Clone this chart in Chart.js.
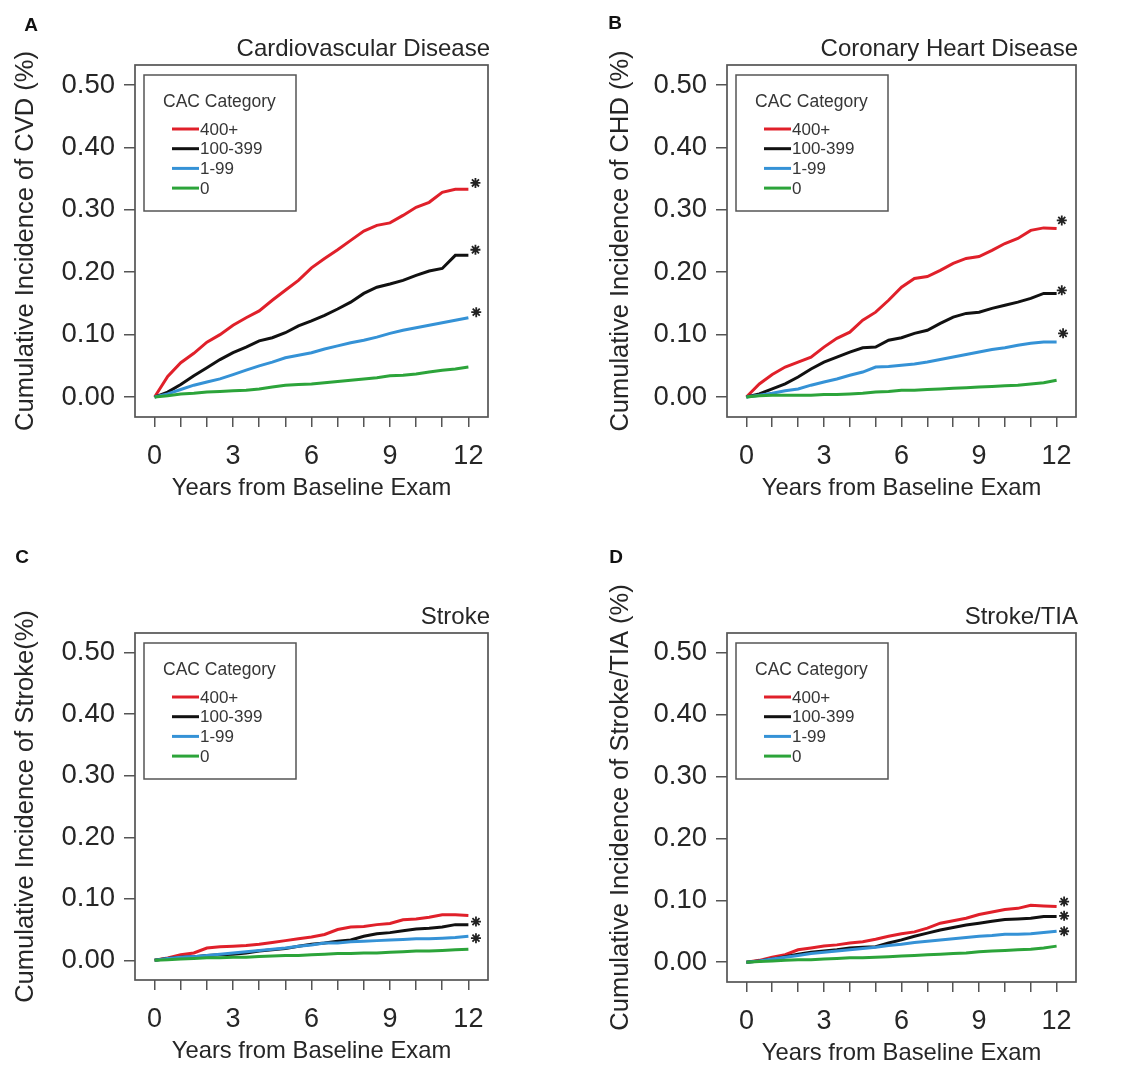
<!DOCTYPE html>
<html>
<head>
<meta charset="utf-8">
<script src="https://cdn.jsdelivr.net/npm/chart.js@4.4.1/dist/chart.umd.min.js"></script>
<style>
  html, body { margin: 0; padding: 0; background: #ffffff; }
  #wrap { position: relative; width: 1126px; height: 1067px; overflow: hidden; }
  #wrap canvas { position: absolute; left: 0; top: 0; }
</style>
</head>
<body>
<div id="wrap">
  <canvas id="cA" width="1126" height="1067"></canvas>
  <canvas id="cB" width="1126" height="1067"></canvas>
  <canvas id="cC" width="1126" height="1067"></canvas>
  <canvas id="cD" width="1126" height="1067"></canvas>
</div>
<script>
// ---------------- DATA ----------------
const years = [0, 0.5, 1, 1.5, 2, 2.5, 3, 3.5, 4, 4.5, 5, 5.5, 6, 6.5, 7, 7.5, 8, 8.5, 9, 9.5, 10, 10.5, 11, 11.5, 12];
const categories = ["400+", "100-399", "1-99", "0"];
const xTickValues = [0, 1, 2, 3, 4, 5, 6, 7, 8, 9, 10, 11, 12];
const yTickValues = [0, 0.1, 0.2, 0.3, 0.4, 0.5];

// Panel A: Cardiovascular Disease
const cvd400 = [0, 0.033, 0.055, 0.070, 0.088, 0.100, 0.115, 0.127, 0.138, 0.155, 0.171, 0.187, 0.207, 0.222, 0.236, 0.251, 0.266, 0.275, 0.279, 0.291, 0.304, 0.312, 0.328, 0.333, 0.333];
const cvd100 = [0, 0.008, 0.020, 0.034, 0.047, 0.060, 0.071, 0.080, 0.090, 0.095, 0.103, 0.114, 0.122, 0.131, 0.141, 0.152, 0.166, 0.176, 0.181, 0.187, 0.195, 0.202, 0.206, 0.227, 0.227];
const cvd1 = [0, 0.005, 0.012, 0.019, 0.024, 0.029, 0.036, 0.043, 0.050, 0.056, 0.063, 0.067, 0.071, 0.077, 0.082, 0.087, 0.091, 0.096, 0.102, 0.107, 0.111, 0.115, 0.119, 0.123, 0.127];
const cvd0 = [0, 0.002, 0.005, 0.006, 0.008, 0.009, 0.010, 0.011, 0.013, 0.016, 0.019, 0.020, 0.021, 0.023, 0.025, 0.027, 0.029, 0.031, 0.034, 0.035, 0.037, 0.040, 0.043, 0.045, 0.048];
const cvdStarX = [12.27, 12.27, 12.3];
const cvdStarY = [0.343, 0.236, 0.136];

// Panel B: Coronary Heart Disease
const chd400 = [0, 0.021, 0.036, 0.048, 0.056, 0.064, 0.080, 0.094, 0.104, 0.123, 0.136, 0.155, 0.176, 0.190, 0.193, 0.203, 0.214, 0.222, 0.225, 0.235, 0.246, 0.254, 0.267, 0.271, 0.270];
const chd100 = [0, 0.005, 0.013, 0.021, 0.032, 0.045, 0.056, 0.064, 0.072, 0.079, 0.080, 0.091, 0.095, 0.102, 0.107, 0.118, 0.128, 0.134, 0.136, 0.142, 0.147, 0.152, 0.158, 0.166, 0.166];
const chd1 = [0, 0.003, 0.006, 0.010, 0.013, 0.019, 0.024, 0.029, 0.035, 0.040, 0.048, 0.049, 0.051, 0.053, 0.056, 0.060, 0.064, 0.068, 0.072, 0.076, 0.079, 0.083, 0.086, 0.088, 0.088];
const chd0 = [0, 0.002, 0.003, 0.003, 0.003, 0.003, 0.004, 0.004, 0.005, 0.006, 0.008, 0.009, 0.011, 0.011, 0.012, 0.013, 0.014, 0.015, 0.016, 0.017, 0.018, 0.019, 0.021, 0.023, 0.027];
const chdStarX = [12.2, 12.2, 12.25];
const chdStarY = [0.283, 0.171, 0.102];

// Panel C: Stroke
const str400 = [0, 0.004, 0.009, 0.012, 0.020, 0.022, 0.023, 0.024, 0.026, 0.029, 0.032, 0.035, 0.038, 0.042, 0.050, 0.054, 0.055, 0.058, 0.060, 0.066, 0.067, 0.070, 0.074, 0.074, 0.073];
const str100 = [0, 0.003, 0.005, 0.006, 0.008, 0.009, 0.010, 0.012, 0.015, 0.017, 0.019, 0.023, 0.026, 0.028, 0.031, 0.033, 0.039, 0.043, 0.045, 0.048, 0.051, 0.052, 0.054, 0.058, 0.058];
const str1 = [0, 0.003, 0.005, 0.006, 0.008, 0.010, 0.012, 0.014, 0.016, 0.018, 0.020, 0.023, 0.025, 0.028, 0.028, 0.030, 0.031, 0.032, 0.033, 0.034, 0.035, 0.035, 0.036, 0.037, 0.039];
const str0 = [0, 0.001, 0.002, 0.003, 0.004, 0.004, 0.005, 0.005, 0.006, 0.007, 0.008, 0.008, 0.009, 0.010, 0.011, 0.011, 0.012, 0.012, 0.013, 0.014, 0.015, 0.015, 0.016, 0.017, 0.018];
const strStarX = [12.29, 12.29];
const strStarY = [0.063, 0.036];

// Panel D: Stroke/TIA
const tia400 = [0, 0.003, 0.008, 0.012, 0.020, 0.023, 0.026, 0.028, 0.031, 0.033, 0.037, 0.042, 0.046, 0.049, 0.055, 0.063, 0.067, 0.071, 0.077, 0.081, 0.085, 0.087, 0.092, 0.091, 0.090];
const tia100 = [0, 0.002, 0.005, 0.009, 0.013, 0.016, 0.018, 0.020, 0.023, 0.024, 0.025, 0.031, 0.036, 0.042, 0.047, 0.052, 0.056, 0.060, 0.063, 0.066, 0.069, 0.070, 0.071, 0.074, 0.074];
const tia1 = [0, 0.002, 0.005, 0.008, 0.011, 0.014, 0.016, 0.018, 0.020, 0.022, 0.024, 0.027, 0.029, 0.032, 0.034, 0.036, 0.038, 0.040, 0.042, 0.043, 0.045, 0.045, 0.046, 0.048, 0.050];
const tia0 = [0, 0.001, 0.002, 0.003, 0.004, 0.004, 0.005, 0.006, 0.007, 0.007, 0.008, 0.009, 0.010, 0.011, 0.012, 0.013, 0.014, 0.015, 0.017, 0.018, 0.019, 0.020, 0.021, 0.023, 0.026];
const tiaStarX = [12.29, 12.29, 12.29];
const tiaStarY = [0.098, 0.075, 0.050];

// ---------------- STYLE ----------------
const FONT = "'Liberation Sans', Arial, Helvetica, sans-serif";
const TEXT = '#262626';
const AXIS = '#555555';
const seriesColors = ['#e0202a', '#111111', '#3592d6', '#2ca43a'];

const panels = [
  { id: 'cA', letter: 'A', title: 'Cardiovascular Disease', ylab: 'Cumulative Incidence of CVD (%)',
    series: [cvd400, cvd100, cvd1, cvd0], starX: cvdStarX, starY: cvdStarY,
    L: 135, R: 488, T: 65, B: 417, yw: 124, letterX: 31, letterY: 25 },
  { id: 'cB', letter: 'B', title: 'Coronary Heart Disease', ylab: 'Cumulative Incidence of CHD (%)',
    series: [chd400, chd100, chd1, chd0], starX: chdStarX, starY: chdStarY,
    L: 727, R: 1076, T: 65, B: 417, yw: 121, letterX: 615, letterY: 23 },
  { id: 'cC', letter: 'C', title: 'Stroke', ylab: 'Cumulative Incidence of Stroke(%)',
    series: [str400, str100, str1, str0], starX: strStarX, starY: strStarY,
    L: 135, R: 488, T: 633, B: 980, yw: 124, letterX: 22, letterY: 557 },
  { id: 'cD', letter: 'D', title: 'Stroke/TIA', ylab: 'Cumulative Incidence of Stroke/TIA (%)',
    series: [tia400, tia100, tia1, tia0], starX: tiaStarX, starY: tiaStarY,
    L: 727, R: 1076, T: 633, B: 982, yw: 121, letterX: 616, letterY: 557 }
];

const XH = 86;

const boxPlugin = {
  id: 'boxPlugin',
  afterDraw(chart) {
    const { ctx, chartArea: a } = chart;
    const p = chart.options.plugins.boxPlugin;
    ctx.save();
    ctx.strokeStyle = AXIS;
    ctx.lineWidth = 1.7;
    ctx.strokeRect(a.left, a.top, a.right - a.left, a.bottom - a.top);
    // panel title
    ctx.fillStyle = TEXT;
    ctx.font = '24px ' + FONT;
    ctx.textAlign = 'right';
    ctx.textBaseline = 'middle';
    ctx.fillText(p.title, a.right + 2, a.top - 16);
    // panel letter
    ctx.font = 'bold 19px ' + FONT;
    ctx.textAlign = 'center';
    ctx.fillStyle = '#111';
    ctx.fillText(p.letter, p.letterX, p.letterY + 1);
    // legend
    const lx = a.left + 9, ly = a.top + 10, lw = 152, lh = 136;
    ctx.fillStyle = '#fff';
    ctx.fillRect(lx, ly, lw, lh);
    ctx.strokeStyle = AXIS;
    ctx.lineWidth = 1.5;
    ctx.strokeRect(lx, ly, lw, lh);
    ctx.fillStyle = '#363636';
    ctx.font = '17.5px ' + FONT;
    ctx.textAlign = 'left';
    ctx.fillText('CAC Category', lx + 19, ly + 27);
    ctx.font = '17px ' + FONT;
    chart.data.datasets.slice(0, 4).forEach((ds, i) => {
      const yy = ly + 54 + i * 19.7;
      ctx.strokeStyle = ds.borderColor;
      ctx.lineWidth = 3;
      ctx.beginPath();
      ctx.moveTo(lx + 28, yy);
      ctx.lineTo(lx + 55, yy);
      ctx.stroke();
      ctx.fillStyle = '#363636';
      ctx.fillText(ds.label, lx + 56, yy + 1);
    });
    ctx.restore();
  }
};

panels.forEach(p => {
  const datasets = p.series.map((vals, i) => ({
    label: categories[i],
    data: years.map((t, k) => ({ x: t, y: vals[k] })),
    borderColor: seriesColors[i],
    borderWidth: 3,
    pointRadius: 0,
    tension: 0,
    fill: false,
    order: 4 - i
  }));
  datasets.push({
    label: 'significance',
    data: p.starX.map((x, k) => ({ x: x, y: p.starY[k] })),
    showLine: false,
    pointStyle: 'star',
    pointRadius: 5,
    borderColor: '#222',
    backgroundColor: '#222',
    borderWidth: 1.8,
    order: 0
  });
  new Chart(document.getElementById(p.id), {
    type: 'line',
    data: { datasets },
    plugins: [boxPlugin],
    options: {
      responsive: false,
      animation: false,
      devicePixelRatio: 1,
      layout: {
        padding: { left: p.L - p.yw, right: 1126 - p.R, top: p.T, bottom: 1067 - p.B - XH }
      },
      plugins: {
        legend: { display: false },
        tooltip: { enabled: false },
        boxPlugin: { title: p.title, letter: p.letter, letterX: p.letterX, letterY: p.letterY }
      },
      scales: {
        x: {
          type: 'linear',
          min: -0.75, max: 12.75,
          afterBuildTicks: s => { s.ticks = xTickValues.map(v => ({ value: v })); },
          afterFit: s => { s.height = XH; },
          grid: { drawOnChartArea: false, drawTicks: true, tickLength: 10, color: AXIS, lineWidth: 1.5 },
          border: { display: false },
          ticks: {
            autoSkip: false, maxRotation: 0, padding: 13, color: TEXT,
            font: { family: FONT, size: 27 },
            callback: v => (v % 3 === 0 ? String(v) : '')
          },
          title: { display: true, text: 'Years from Baseline Exam', color: TEXT,
                   font: { family: FONT, size: 23.8 }, padding: { top: 0, bottom: 0, left: 0, right: 0 } }
        },
        y: {
          type: 'linear',
          min: -0.032, max: 0.532,
          afterBuildTicks: s => { s.ticks = yTickValues.map(v => ({ value: v })); },
          afterFit: s => { s.width = p.yw; },
          grid: { drawOnChartArea: false, drawTicks: true, tickLength: 11, color: AXIS, lineWidth: 1.5 },
          border: { display: false },
          ticks: { padding: 9, color: TEXT, font: { family: FONT, size: 27.5 },
                   callback: v => Number(v).toFixed(2) },
          title: { display: true, text: p.ylab, color: TEXT,
                   font: { family: FONT, size: 25.5 }, padding: 0 }
        }
      }
    }
  });
});
</script>
</body>
</html>
